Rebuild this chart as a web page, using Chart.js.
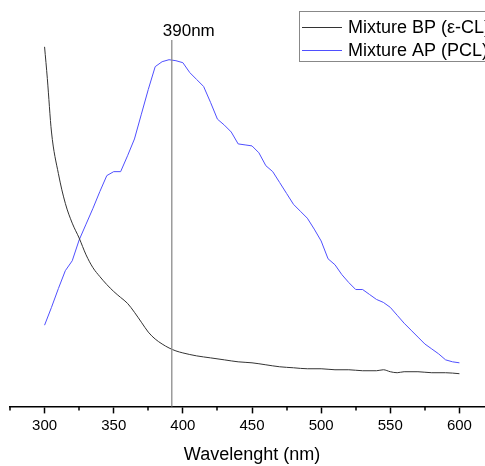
<!DOCTYPE html>
<html>
<head>
<meta charset="utf-8">
<script src="https://cdn.jsdelivr.net/npm/chart.js@4/dist/chart.umd.min.js"></script>
<style>
    html, body { margin: 0; padding: 0; background: #fff; overflow: hidden; }
    #wrap { width: 485px; height: 466px; overflow: hidden; }
</style>
</head>
<body>
<div id="wrap"><canvas id="myChart" width="500" height="466"></canvas></div>
<script>
// wavelengths (nm) and intensities (a.u.)
const wavelengthsBP = [300, 302, 305, 310, 315, 320, 325, 330, 335, 340, 345, 350, 355, 360, 365, 370, 375, 380, 385, 390, 395, 400, 410, 420, 430, 440, 450, 460, 470, 480, 490, 500, 510, 520, 530, 540, 545, 550, 555, 560, 570, 580, 590, 600];
const valuesBP = [363, 331, 277, 235, 205, 185, 170, 153, 140, 131, 123, 116, 110, 104, 95, 85, 75, 68, 63, 59, 56, 54, 51, 49, 47, 45, 44, 42, 40, 39, 38, 38, 37, 37, 36, 36, 37, 35, 34, 35, 35, 34, 34, 33];

const wavelengthsAP = [300, 305, 310, 315, 320, 325, 330, 335, 340, 345, 350, 355, 360, 365, 370, 375, 380, 385, 390, 395, 400, 405, 410, 415, 420, 425, 430, 435, 440, 445, 450, 455, 460, 465, 470, 475, 480, 485, 490, 495, 500, 505, 510, 515, 520, 525, 530, 535, 540, 545, 550, 555, 560, 565, 570, 575, 580, 585, 590, 595, 600];
const valuesAP = [82, 100, 119, 137, 147, 168, 184, 200, 217, 233, 237, 237, 253, 270, 295, 320, 343, 348, 350, 349, 347, 337, 330, 323, 307, 290, 284, 277, 265, 264, 263, 256, 243, 237, 226, 215, 204, 197, 190, 179, 167, 149, 143, 133, 125, 118, 118, 113, 108, 105, 100, 92, 84, 77, 70, 63, 58, 53, 47, 45, 44];

const seriesLabels = ['Mixture BP (\u03b5-CL)', 'Mixture AP (PCL)'];
const markerWavelength = 392;
const markerLabel = '390nm';
const xTitle = 'Wavelenght (nm)';

const fontFamily = '"Liberation Sans", Arial, Helvetica, sans-serif';
const colorBP = '#333333';
const colorAP = '#4f4fff';

function toPoints(xs, ys) {
    let pts = [];
    for (let i = 0; i < xs.length; i++) {
        pts.push({ x: xs[i], y: ys[i] });
    }
    return pts;
}

// short ticks between the labelled ones
const minorTicks = {
    id: 'minorTicks',
    afterDraw(chart) {
        let c = chart.ctx;
        let sx = chart.scales.x;
        c.save();
        c.strokeStyle = '#000';
        c.lineWidth = 1.5;
        sx.ticks.forEach(function (t) {
            if (t.value % 50 !== 0) {
                let px = Math.round(sx.getPixelForValue(t.value));
                c.beginPath();
                c.moveTo(px, sx.top);
                c.lineTo(px, sx.top + 4);
                c.stroke();
            }
        });
        c.restore();
    }
};

// vertical marker at the peak
const peakMarker = {
    id: 'peakMarker',
    afterDatasetsDraw(chart) {
        let c = chart.ctx;
        let px = chart.scales.x.getPixelForValue(markerWavelength);
        c.save();
        c.strokeStyle = '#8c8c8c';
        c.lineWidth = 1.3;
        c.beginPath();
        c.moveTo(px, 40);
        c.lineTo(px, chart.chartArea.bottom);
        c.stroke();
        c.fillStyle = '#000';
        c.font = '17px ' + fontFamily;
        c.textAlign = 'left';
        c.textBaseline = 'alphabetic';
        c.fillText(markerLabel, px - 9, 36);
        c.restore();
    }
};

// boxed legend in the top right corner, running off the edge like the original
const boxLegend = {
    id: 'boxLegend',
    afterDraw(chart) {
        let c = chart.ctx;
        let x0 = 299, y0 = 11, w = 240, h = 50;
        c.save();
        c.fillStyle = '#fff';
        c.fillRect(x0, y0, w, h);
        c.strokeStyle = '#888';
        c.lineWidth = 1;
        c.strokeRect(x0 + 0.5, y0 + 0.5, w, h);
        c.font = '18px ' + fontFamily;
        c.textBaseline = 'middle';
        c.textAlign = 'left';
        chart.data.datasets.forEach(function (ds, i) {
            let y = 27 + i * 23;
            c.strokeStyle = ds.borderColor;
            c.lineWidth = 1;
            c.beginPath();
            c.moveTo(302, y + 0.5);
            c.lineTo(342, y + 0.5);
            c.stroke();
            c.fillStyle = '#000';
            c.fillText(ds.label, 348, y + 1);
        });
        c.restore();
    }
};

ctx = document.getElementById('myChart');
var chart = new Chart(ctx, {
    type: 'line',
    data: {
        datasets: [{
            label: seriesLabels[0],
            data: toPoints(wavelengthsBP, valuesBP),
            borderColor: colorBP,
            borderWidth: 1,
            pointRadius: 0,
            cubicInterpolationMode: 'monotone'
        }, {
            label: seriesLabels[1],
            data: toPoints(wavelengthsAP, valuesAP),
            borderColor: colorAP,
            borderWidth: 1,
            pointRadius: 0,
            tension: 0
        }]
    },
    options: {
        responsive: false,
        animation: false,
        devicePixelRatio: 1,
        layout: { padding: { top: 30, left: 10, right: 6, bottom: 0 } },
        plugins: {
            legend: { display: false },
            tooltip: { enabled: false }
        },
        scales: {
            x: {
                type: 'linear',
                min: 275,
                max: 625,
                ticks: {
                    stepSize: 25,
                    padding: 3,
                    color: '#000',
                    maxRotation: 0,
                    autoSkip: false,
                    font: { family: fontFamily, size: 15 },
                    callback: (v) => (v % 50 === 0 ? String(v) : '')
                },
                grid: {
                    drawOnChartArea: false,
                    drawTicks: true,
                    tickLength: 7,
                    tickWidth: 1.5,
                    tickColor: (c) => (c.tick && c.tick.value % 50 === 0 ? '#000' : 'rgba(0,0,0,0)')
                },
                border: { color: '#000', width: 1.5 },
                title: {
                    display: true,
                    text: xTitle,
                    color: '#000',
                    font: { family: fontFamily, size: 18 },
                    padding: { top: 7, bottom: 0 }
                }
            },
            y: {
                display: false,
                min: 0,
                max: 380
            }
        }
    },
    plugins: [minorTicks, peakMarker, boxLegend]
});
</script>
</body>
</html>
